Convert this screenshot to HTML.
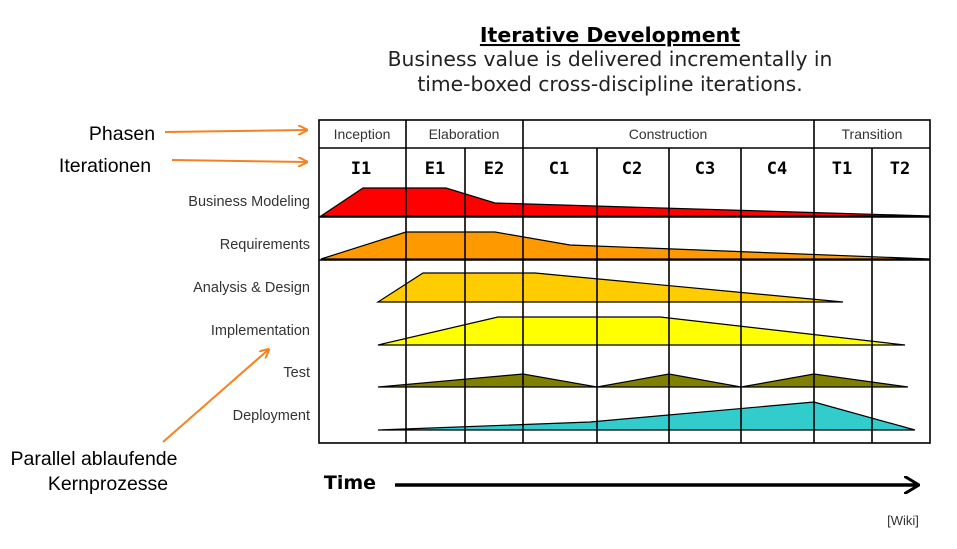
<!DOCTYPE html>
<html><head><style>
body{margin:0;background:#fff;}
svg{display:block}
</style></head><body>
<svg width="957" height="549" xmlns="http://www.w3.org/2000/svg">
<defs>
<marker id="oa" markerWidth="10" markerHeight="10" refX="8" refY="5" orient="auto" markerUnits="userSpaceOnUse"><path d="M0,0 L10,5 L0,10" fill="none" stroke="#f58220" stroke-width="2"/></marker>
<marker id="ba" markerWidth="16" markerHeight="18" refX="14" refY="9" orient="auto" markerUnits="userSpaceOnUse"><path d="M0,0 L15,9 L0,18" fill="none" stroke="#000" stroke-width="3"/></marker>
</defs>
<g font-family="DejaVu Sans, sans-serif" text-anchor="middle">
<text x="610" y="42" font-size="20.5" font-weight="bold" text-decoration="underline">Iterative Development</text>
<text x="610" y="66" font-size="20.3" fill="#222">Business value is delivered incrementally in</text>
<text x="610" y="91" font-size="20.3" fill="#222">time-boxed cross-discipline iterations.</text>
</g>
<g stroke="#000" stroke-width="1.2">
<polygon points="321,216 363,188 446,188 495,203 930,216" fill="#f00"/>
<polygon points="321,259 406,232 495,232 570,245 930,259" fill="#f90"/>
<polygon points="378,302 423,273 535,273 843,302" fill="#fc0"/>
<polygon points="378,345 498,317 660,317 905,345" fill="#ff0"/>
<polygon points="378,387 523,374 597,387 669,374 741,387 814,374 908,387" fill="#808000"/>
<polygon points="378,430 590,422 814,402 915,430" fill="#33cccc"/>
</g>
<g stroke="#000" stroke-width="1.6" fill="none">
<rect x="319" y="120" width="611" height="323"/>
<line x1="319" y1="148" x2="930" y2="148"/>
<line x1="319" y1="217" x2="930" y2="217"/>
<line x1="319" y1="260" x2="930" y2="260"/>
<line x1="406" y1="120" x2="406" y2="443"/>
<line x1="465" y1="148" x2="465" y2="443"/>
<line x1="523" y1="120" x2="523" y2="443"/>
<line x1="597" y1="148" x2="597" y2="443"/>
<line x1="669" y1="148" x2="669" y2="443"/>
<line x1="741" y1="148" x2="741" y2="443"/>
<line x1="814" y1="120" x2="814" y2="443"/>
<line x1="872" y1="148" x2="872" y2="443"/>
</g>
<g font-family="Liberation Sans, sans-serif" font-size="14" fill="#333" text-anchor="middle">
<text x="362" y="139">Inception</text>
<text x="464" y="139">Elaboration</text>
<text x="668" y="139">Construction</text>
<text x="872" y="139">Transition</text>
</g>
<g font-family="DejaVu Sans Mono, monospace" font-size="17" font-weight="bold" text-anchor="middle">
<text x="361" y="174">I1</text><text x="435" y="174">E1</text><text x="494" y="174">E2</text>
<text x="559" y="174">C1</text><text x="632" y="174">C2</text><text x="705" y="174">C3</text>
<text x="777" y="174">C4</text><text x="842" y="174">T1</text><text x="900" y="174">T2</text>
</g>
<g font-family="Liberation Sans, sans-serif" font-size="14.5" fill="#333" text-anchor="end">
<text x="310" y="206">Business Modeling</text>
<text x="310" y="249">Requirements</text>
<text x="310" y="292">Analysis &amp; Design</text>
<text x="310" y="335">Implementation</text>
<text x="310" y="377">Test</text>
<text x="310" y="420">Deployment</text>
</g>
<g font-family="Liberation Sans, sans-serif" font-size="19.5" text-anchor="middle">
<text x="122" y="140">Phasen</text>
<text x="105" y="172">Iterationen</text>
<text x="94" y="465">Parallel ablaufende</text>
<text x="108" y="490">Kernprozesse</text>
</g>
<g stroke="#f58220" stroke-width="2">
<line x1="165" y1="132" x2="306" y2="130" marker-end="url(#oa)"/>
<line x1="172" y1="160" x2="306" y2="162" marker-end="url(#oa)"/>
<line x1="163" y1="442" x2="268" y2="350" marker-end="url(#oa)"/>
</g>
<text x="350" y="489" font-family="DejaVu Sans, sans-serif" font-size="19" font-weight="bold" text-anchor="middle">Time</text>
<line x1="395" y1="485" x2="918" y2="485" stroke="#000" stroke-width="3.5" marker-end="url(#ba)"/>
<text x="903" y="525" font-family="Liberation Sans, sans-serif" font-size="13" text-anchor="middle" fill="#333">[Wiki]</text>
</svg>
</body></html>
